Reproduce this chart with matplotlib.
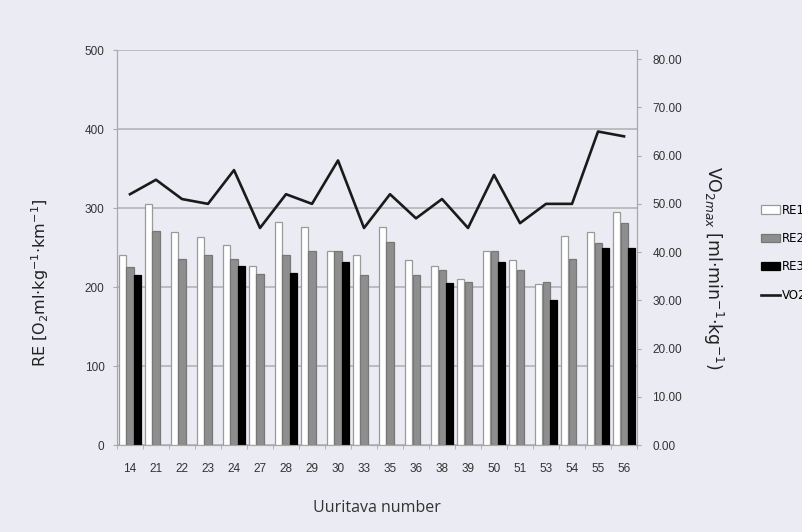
import numpy as np
import matplotlib.pyplot as plt
from matplotlib.ticker import FormatStrFormatter, FixedLocator

subjects = ["14", "21", "22", "23", "24", "27", "28", "29", "30", "33",
            "35", "36", "38", "39", "50", "51", "53", "54", "55", "56"]
re1 = [240, 305, 270, 263, 253, 227, 282, 276, 246, 240,
       276, 234, 227, 210, 246, 234, 204, 264, 270, 295]
re2 = [225, 271, 236, 241, 235, 216, 240, 246, 246, 215,
       257, 215, 221, 206, 246, 221, 206, 235, 256, 281]
re3 = [215, np.nan, np.nan, np.nan, 227, np.nan, 218, np.nan, 232, np.nan,
       np.nan, np.nan, 205, np.nan, 232, np.nan, 184, np.nan, 249, 249]
vo2max = [52, 55, 51, 50, 57, 45, 52, 50, 59, 45,
          52, 47, 51, 45, 56, 46, 50, 50, 65, 64]

bg = "#ebebf3"
fig = plt.figure(figsize=(8.03, 5.32), dpi=100, facecolor=bg)
ax = fig.add_axes([0.1457, 0.1635, 0.6476, 0.7425], facecolor=bg)
ax2 = ax.twinx()

x = np.arange(len(subjects))
w = 0.27
b1 = ax.bar(x - 0.29, re1, w, color="white", edgecolor="#9a9a9a", linewidth=0.9, label="RE1", zorder=3)
b2 = ax.bar(x, re2, w, color="#8e8e8e", edgecolor="#777777", linewidth=0.9, label="RE2", zorder=3)
b3 = ax.bar(x + 0.29, re3, w, color="black", edgecolor="black", linewidth=0.9, label="RE3", zorder=3)
ln, = ax2.plot(x, vo2max, color="#1a1a1a", lw=1.9, label="VO2max")

ax.set_xlim(-0.5, len(subjects) - 0.5)
ax.set_ylim(0, 500)
ax.set_yticks(range(0, 501, 100))
ax2.set_ylim(0, 81.9)
ax2.set_yticks(range(0, 81, 10))
ax2.yaxis.set_major_formatter(FormatStrFormatter("%.2f"))

ax.yaxis.grid(True, color="#b4b4b8", lw=1.2, zorder=0)
ax.set_axisbelow(True)

ax.set_xticks(x)
ax.set_xticklabels(subjects)
ax.xaxis.set_minor_locator(FixedLocator(np.arange(-0.5, len(subjects), 1)))
ax.tick_params(axis="x", which="major", length=0, pad=13)
ax.tick_params(axis="x", which="minor", length=3, color="#aaaaaa")
ax.tick_params(axis="y", length=3, color="#aaaaaa", pad=6)
ax2.tick_params(axis="y", length=3, color="#aaaaaa", pad=8)

for a in (ax, ax2):
    a.spines["top"].set_visible(False)
    for s in ("left", "right", "bottom"):
        a.spines[s].set_color("#a8a8a8")
    for lab in a.get_xticklabels() + a.get_yticklabels():
        lab.set_fontsize(8.5)
        lab.set_color("#333333")
        lab.set_family("Liberation Sans")

fig.text(0.05, 1 - 283 / 532, r"RE [O$_2$ml$\cdot$kg$^{-1}$$\cdot$km$^{-1}$]",
         rotation=90, ha="center", va="center", fontsize=11.5, color="#222222")
fig.text(713 / 803, 1 - 268 / 532, r"VO$_{2max}$ [ml$\cdot$min$^{-1}$$\cdot$kg$^{-1}$)",
         rotation=270, ha="center", va="center", fontsize=12.5, color="#222222")
fig.text(377 / 803, 1 - 508 / 532, "Uuritava number", ha="center", va="center",
         fontsize=11.5, color="#333333", family="Open Sans")

fig.legend(handles=[b1, b2, b3, ln], loc="upper left",
           bbox_to_anchor=(756 / 803, 1 - 199 / 532), frameon=False,
           fontsize=8.5, handlelength=1.6, handletextpad=0.2, labelspacing=1.3,
           borderaxespad=0)

fig.savefig("out.png", dpi=100, facecolor=bg)
